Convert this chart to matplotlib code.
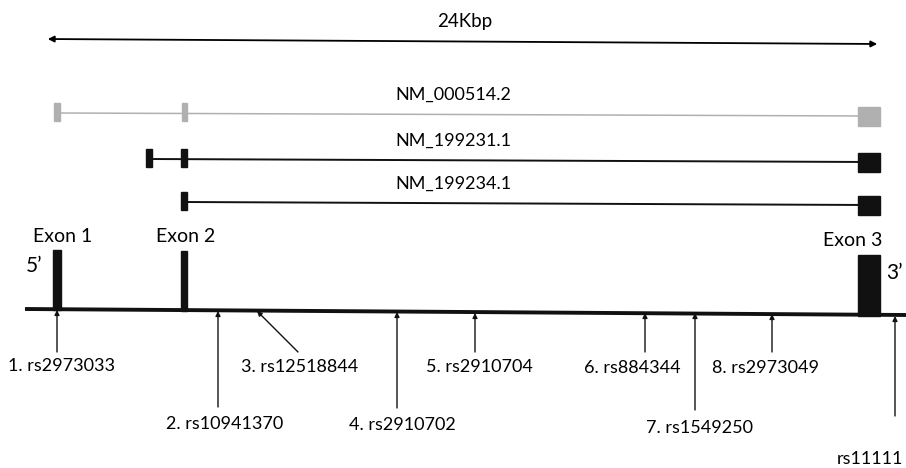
import matplotlib.pyplot as plt
from matplotlib.patches import Rectangle, FancyArrowPatch

plt.rcParams['font.family'] = ['Lato', 'DejaVu Sans']

# Transcripts
transcripts = ["NM_000514.2", "NM_199231.1", "NM_199234.1"]
transcript_y = [113, 159, 202]
transcript_start = [57, 149, 184]
transcript_end = [869, 869, 869]
transcript_colors = ["#b0b0b0", "#111111", "#111111"]
transcript_exons = [
    [(54, 6), (182, 5), (858, 22)],
    [(146, 6), (181, 6), (858, 22)],
    [(181, 6), (858, 22)],
]

# Gene exons on baseline
exon_names = ["Exon 1", "Exon 2", "Exon 3"]
exon_x = [53, 181, 858]
exon_w = [8, 6, 22]
exon_top = [250, 251, 255]
exon_label_x = [63, 186, 853]
exon_label_y = [236, 236, 240]

# SNPs: label, arrow tail (x, y), arrow head (x, y), label pos
snp_labels = ["1. rs2973033", "2. rs10941370", "3. rs12518844", "4. rs2910702",
              "5. rs2910704", "6. rs884344", "7. rs1549250", "8. rs2973049", "rs11111"]
snp_tail_x = [57, 218, 298, 397, 475, 645, 695, 772, 895]
snp_tail_y = [352, 407, 352, 408, 352, 352, 410, 352, 416]
snp_head_x = [57, 218, 257, 397, 475, 645, 695, 772, 895]
snp_head_y = [310, 311, 311, 312, 313, 313, 313, 314, 316]
snp_label_x = [62, 225, 300, 402, 479, 632, 700, 766, 870]
snp_label_y = [366, 424, 367, 425, 367, 368, 428, 368, 459]

fig = plt.figure(figsize=(9.06, 4.68), dpi=100)
ax = fig.add_axes([0, 0, 1, 1])
ax.set_xlim(0, 906)
ax.set_ylim(468, 0)
ax.axis('off')

fs = 13

# Scale arrow
ax.text(465, 21, "24Kbp", ha='center', va='center', fontsize=13.5)
ax.add_patch(FancyArrowPatch((45, 39), (880, 44), arrowstyle='<|-|>',
                             mutation_scale=9, lw=1.3, color='black'))

# Transcripts
for name, y, s, e, c, exs in zip(transcripts, transcript_y, transcript_start,
                                   transcript_end, transcript_colors, transcript_exons):
    ax.text(453, y - 18, name, ha='center', va='center', fontsize=fs)
    ax.plot([s, e], [y, y + 3], color=c, lw=1.4 if c != "#b0b0b0" else 1.1,
            solid_capstyle='butt')
    for (x0, w) in exs:
        if w < 10:
            ax.add_patch(Rectangle((x0, y - 10), w, 18, color=c, zorder=3))
        else:
            ax.add_patch(Rectangle((x0, y - 6), w, 19, color=c, zorder=3))

# Baseline
ax.plot([25, 906], [309, 315], color='#111111', lw=2.8, solid_capstyle='butt')

# Gene exons
for name, x0, w, top, lx, ly in zip(exon_names, exon_x, exon_w, exon_top,
                                    exon_label_x, exon_label_y):
    bottom = 309 + (x0 - 25) * 6 / 881
    ax.add_patch(Rectangle((x0, top), w, bottom - top + 1, color='#111111', zorder=3))
    ax.text(lx, ly, name, ha='center', va='center', fontsize=14)

ax.text(34, 266, "5\u2019", ha='center', va='center', fontsize=15)
ax.text(894, 273, "3\u2019", ha='center', va='center', fontsize=15)

# SNP arrows
for lab, tx, ty, hx, hy, lx, ly in zip(snp_labels, snp_tail_x, snp_tail_y, snp_head_x,
                                       snp_head_y, snp_label_x, snp_label_y):
    ax.add_patch(FancyArrowPatch((tx, ty), (hx, hy), arrowstyle='-|>',
                                 mutation_scale=7, lw=1.0, color='#111111',
                                 shrinkA=0, shrinkB=0))
    ax.text(lx, ly, lab, ha='center', va='center', fontsize=fs)

fig.savefig("out.png", dpi=100)
